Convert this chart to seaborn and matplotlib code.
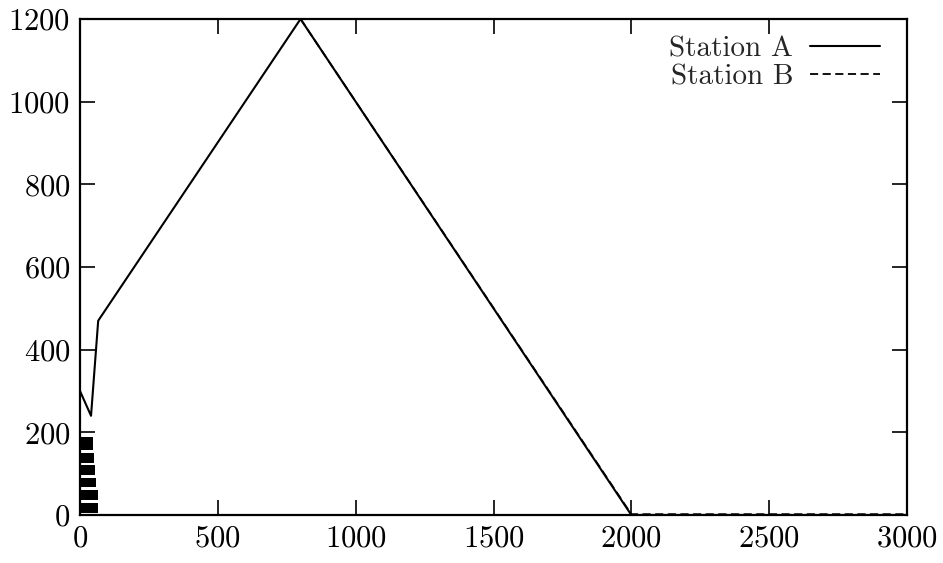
import matplotlib
matplotlib.use("Agg")
import matplotlib.pyplot as plt
import pandas as pd
import seaborn as sns

# Station A (solid)
a_x = [0, 40, 66, 800, 2000, 3000]
a_y = [300, 240, 470, 1200, 0, 0]
# Station B (dashed) line part
b_x = [800, 2000, 3000]
b_y = [1200, 2, 2]
# Station B dense part near origin (rendered as solid blocks)
b_block_bottom = [5, 36, 68, 97, 126, 157]
b_block_top = [29, 60, 89, 121, 150, 188]
b_block_right = [67, 64, 58, 56, 51, 47]

x_ticks = [0, 500, 1000, 1500, 2000, 2500, 3000]
y_ticks = [0, 200, 400, 600, 800, 1000, 1200]

sns.set_style("ticks")
plt.rcParams["font.family"] = ["cmr10", "DejaVu Serif"]
plt.rcParams["axes.formatter.use_mathtext"] = True

fig = plt.figure(figsize=(9.43, 5.63), dpi=100)
ax = fig.add_axes([80 / 943, 48 / 563, 827 / 943, 496 / 563])

dfa = pd.DataFrame({"x": a_x, "y": a_y})
dfb = pd.DataFrame({"x": b_x, "y": b_y})
sns.lineplot(data=dfa, x="x", y="y", ax=ax, color="black", lw=1.5,
             sort=False, estimator=None, label="Station A")
sns.lineplot(data=dfb, x="x", y="y", ax=ax, color="black", lw=1.3,
             sort=False, estimator=None, label="Station B",
             linestyle=(0, (4.5, 2.5)))
for bot, top, right in zip(b_block_bottom, b_block_top, b_block_right):
    ax.barh(y=(bot + top) / 2, width=right, height=top - bot, left=0,
            color="black", linewidth=0)

ax.set_xlim(0, 3000)
ax.set_ylim(0, 1200)
ax.set_xticks(x_ticks)
ax.set_yticks(y_ticks)
ax.set_xlabel("")
ax.set_ylabel("")
for s in ax.spines.values():
    s.set_visible(True)
    s.set_linewidth(1.6)
    s.set_color("black")
ax.tick_params(direction="in", top=True, right=True, length=10.8, width=1.2,
               labelsize=22, colors="black", pad=7)

leg = ax.legend(loc="upper right", frameon=False, markerfirst=False,
                fontsize=21, handlelength=2.4, handletextpad=0.58,
                labelspacing=0.05, borderaxespad=0,
                bbox_to_anchor=(0.9815, 0.989))
for t in leg.get_texts():
    t.set_ha("right")

fig.savefig("out.png", dpi=100)
